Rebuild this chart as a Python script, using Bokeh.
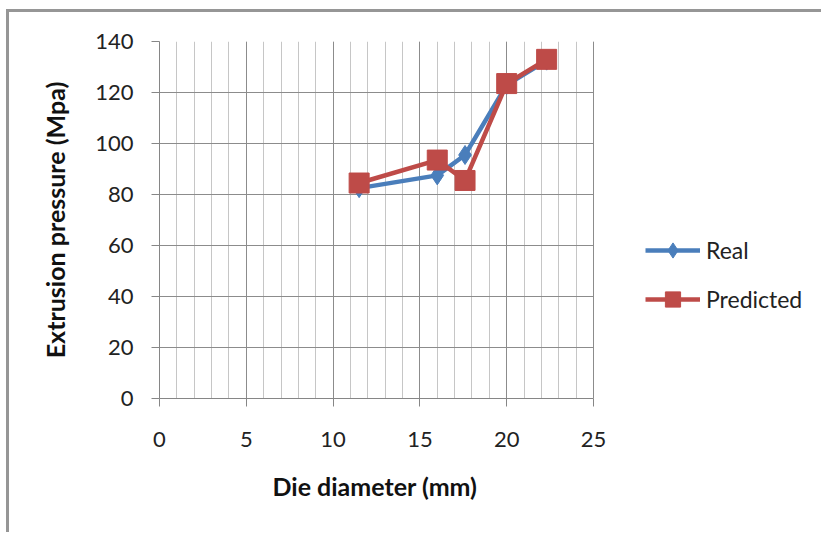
from bokeh.plotting import figure
from bokeh.models import (SingleIntervalTicker, Legend, LegendItem, BoxAnnotation,
                          Title)
from bokeh.embed import file_html
from bokeh.resources import INLINE

# Die diameter (mm) vs extrusion pressure (MPa)
diameter = [11.5, 16.0, 17.6, 20.0, 22.3]
real = [82.5, 87.5, 95.5, 123.0, 132.5]
predicted = [84.5, 93.5, 85.5, 123.5, 133.0]

x_label = "Die diameter (mm)"
y_label = "Extrusion pressure (Mpa)"

BLUE = "#4a7ebb"
RED = "#be4b48"
FONT = "Lato"

# layout: 434 px per 25 mm on x; the frame runs on to the right so the
# legend can sit beside the gridded area
W, H = 815, 523
LEFT, RIGHT, TOP, BOTTOM = 150, 4, 29, 137
X_MAX = 25
GRID_W = 434
frame_w = W - LEFT - RIGHT
x_end = X_MAX * frame_w / GRID_W

p = figure(width=W, height=H, x_range=(0, x_end), y_range=(0, 140),
           output_backend="svg", toolbar_location=None,
           min_border_left=LEFT, min_border_right=RIGHT,
           min_border_top=TOP, min_border_bottom=BOTTOM,
           margin=(9, 0, 0, 6))
# chart border (top and left edges of the chart box)
p.styles = {"border-top": "3px solid #969696", "border-left": "3px solid #969696"}
p.outline_line_color = None
p.background_fill_color = "white"
p.border_fill_color = "white"

# axes
p.xaxis.ticker = SingleIntervalTicker(interval=5, num_minor_ticks=5)
p.yaxis.ticker = SingleIntervalTicker(interval=20, num_minor_ticks=0)
p.xaxis.bounds = (0, X_MAX)
for ax in (p.xaxis[0], p.yaxis[0]):
    ax.axis_line_color = "#868686"
    ax.major_tick_line_color = "#868686"
    ax.axis_line_width = 1
    ax.major_tick_in = 0
    ax.major_tick_out = 8
    ax.minor_tick_line_color = None
    ax.major_label_text_font = FONT
    ax.major_label_text_font_size = "22px"
    ax.major_label_text_color = "#222222"
    ax.axis_label_text_font = FONT
    ax.axis_label_text_font_style = "bold"
    ax.axis_label_text_font_size = "25px"
    ax.axis_label_text_color = "#111111"
p.yaxis.axis_label = y_label
p.xaxis.major_label_standoff = 25
p.yaxis.major_label_standoff = 18
p.yaxis.axis_label_standoff = 22

# x-axis title under the gridded area (0..25); ~204 px wide in Lato bold 25px
p.add_layout(Title(text=x_label, align="left",
                   offset=GRID_W / 2 - 104, standoff=39,
                   text_font=FONT, text_font_style="bold",
                   text_font_size="25px", text_color="#111111"), "below")

# gridlines, kept to the 0..25 area
p.xgrid.grid_line_color = "#8c8c8c"
p.xgrid.minor_grid_line_color = "#c6c6c6"
p.ygrid.grid_line_color = "#8c8c8c"
p.xgrid.bounds = (0, X_MAX)
if "cross_bounds" in p.ygrid[0].properties():
    p.ygrid.cross_bounds = (0, X_MAX)

# series
r_line = p.line(diameter, real, line_color=BLUE, line_width=4.5)
r_mark = p.scatter(diameter, real, marker="diamond", size=19,
                   fill_color=BLUE, line_color=BLUE)
p_line = p.line(diameter, predicted, line_color=RED, line_width=4.5)
p_mark = p.scatter(diameter, predicted, marker="square", size=20,
                   fill_color=RED, line_color=RED)

# blank out anything of the grid to the right of the plotting area
p.add_layout(BoxAnnotation(left=X_MAX + 0.04, right=x_end + 2,
                           bottom=-10, top=150, level="underlay",
                           fill_color="white", fill_alpha=1, line_color=None))

legend = Legend(items=[LegendItem(label="Real", renderers=[r_line, r_mark]),
                       LegendItem(label="Predicted", renderers=[p_line, p_mark])],
                location=(486, 80), glyph_width=55, glyph_height=38,
                spacing=11, padding=0, margin=0, label_standoff=6,
                label_text_font=FONT, label_text_font_size="23px",
                label_text_color="#222222",
                border_line_color=None, background_fill_alpha=0)
p.add_layout(legend, "center")

open("out.html", "w").write(file_html(p, INLINE))
